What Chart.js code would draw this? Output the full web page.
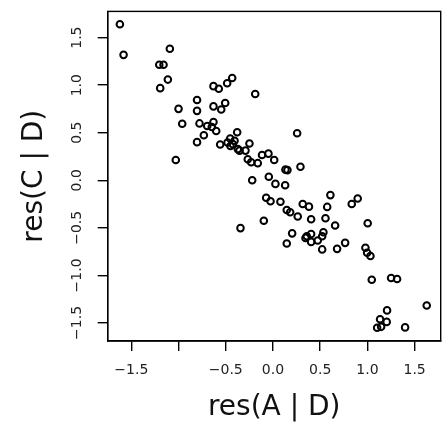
<!DOCTYPE html>
<html>
<head>
<meta charset="utf-8">
<script src="https://cdn.jsdelivr.net/npm/chart.js@4"></script>
<style>
  html, body { margin: 0; padding: 0; background: #fff; }
  #wrap { width: 446px; height: 427px; position: relative; }
</style>
</head>
<body>
<div id="wrap"><canvas id="grafica"></canvas></div>
<script>
// residuos de A | D (eje x) y C | D (eje y)
const resA = [
  -1.621, -1.582, -1.092, -1.204, -1.159, -1.113, -1.194, -1.000, -0.961, -1.029,
  -0.804, -0.804, -0.778, -0.696, -0.648, -0.630, -0.601, -0.732, -0.804, -0.630,
  -0.574, -0.485, -0.432, -0.630, -0.506, -0.548, -0.188, -0.559, -0.453, -0.407,
  -0.425, -0.372, -0.379, -0.249, -0.354, -0.291, -0.267, -0.231, -0.161, -0.116,
  -0.048, 0.013, 0.132, 0.153, 0.291, 0.256, -0.220, -0.044, 0.026, 0.129,
  -0.072, -0.026, 0.079, 0.146, 0.182, 0.262, 0.315, 0.381, -0.097, -0.344,
  0.203, 0.146, 0.344, 0.608, 0.897, 0.834, 0.574, 0.404, 0.556, 0.658,
  1.003, 0.358, 0.404, 0.534, 0.521, 0.404, 0.474, 0.521, 0.679, 0.764,
  0.979, 0.997, 1.032, 1.046, 1.251, 1.314, 1.628, 1.208, 1.134, 1.204,
  1.103, 1.145, 1.399, -0.481, -0.450
];
const resC = [
  1.641, 1.319, 1.384, 1.215, 1.215, 1.059, 0.969, 0.751, 0.595, 0.214,
  0.844, 0.730, 0.598, 0.571, 0.561, 0.613, 0.519, 0.474, 0.401, 0.990,
  0.962, 1.021, 1.076, 0.777, 0.813, 0.744, 0.907, 0.377, 0.439, 0.415,
  0.380, 0.328, 0.505, 0.387, 0.312, 0.312, 0.221, 0.190, 0.180, 0.266,
  0.280, 0.214, 0.112, 0.107, 0.143, 0.494, 0.000, 0.037, -0.038, -0.052,
  -0.184, -0.220, -0.225, -0.312, -0.336, -0.381, -0.249, -0.277, -0.426, -0.503,
  -0.558, -0.665, -0.606, -0.156, -0.191, -0.249, -0.280, -0.409, -0.399, -0.475,
  -0.451, -0.589, -0.565, -0.547, -0.589, -0.648, -0.633, -0.727, -0.721, -0.658,
  -0.710, -0.762, -0.796, -1.046, -1.028, -1.038, -1.316, -1.368, -1.461, -1.489,
  -1.551, -1.541, -1.547, 0.398, 0.361
];

// marcas de los ejes (R omite la etiqueta -1.0 en x)
const xTicks = [-1.5, -1.0, -0.5, 0.0, 0.5, 1.0, 1.5];
const xTickLabels = ["\u22121.5", "", "\u22120.5", "0.0", "0.5", "1.0", "1.5"];
const yTicks = [-1.5, -1.0, -0.5, 0.0, 0.5, 1.0, 1.5];
const yTickLabels = ["\u22121.5", "\u22121.0", "\u22120.5", "0.0", "0.5", "1.0", "1.5"];

const xTitle = "res(A | D)";
const yTitle = "res(C | D)";

const puntos = resA.map((x, i) => ({ x: x, y: resC[i] }));

// caja alrededor del área del gráfico
const caja = {
  id: "caja",
  afterDraw(chart) {
    const { ctx, chartArea: a } = chart;
    ctx.save();
    ctx.strokeStyle = "#000";
    ctx.lineWidth = 1.4;
    ctx.strokeRect(a.left, a.top, a.right - a.left, a.bottom - a.top);
    ctx.restore();
  }
};

const fuenteTick = { family: "DejaVu Sans", size: 14 };
const fuenteTitulo = { family: "DejaVu Sans", size: 28 };

new Chart(document.getElementById("grafica"), {
  type: "scatter",
  data: {
    datasets: [{
      data: puntos,
      pointRadius: 3.3,
      pointHoverRadius: 3.3,
      borderWidth: 2,
      borderColor: "#000",
      backgroundColor: "rgba(0,0,0,0)"
    }]
  },
  options: {
    responsive: true,
    maintainAspectRatio: false,
    animation: false,
    layout: { padding: { top: 7.3, right: 4.7, left: 0, bottom: 0 } },
    plugins: { legend: { display: false }, tooltip: { enabled: false } },
    scales: {
      x: {
        type: "linear",
        min: -1.75,
        max: 1.776,
        afterBuildTicks: (s) => { s.ticks = xTicks.map(v => ({ value: v })); },
        afterFit: (s) => { s.height = 86; },
        ticks: {
          callback: (v, i) => xTickLabels[i],
          font: fuenteTick,
          color: "#222",
          padding: 11,
          maxRotation: 0,
          autoSkip: false
        },
        grid: { drawOnChartArea: false, drawTicks: true, tickLength: 10, color: "#000", lineWidth: 1.4 },
        border: { display: true, color: "#000", width: 1.4 },
        title: { display: true, text: xTitle, font: fuenteTitulo, color: "#111", padding: { top: 0, bottom: 2.7 } }
      },
      y: {
        type: "linear",
        min: -1.69,
        max: 1.776,
        afterBuildTicks: (s) => { s.ticks = yTicks.map(v => ({ value: v })); },
        afterFit: (s) => { s.width = 107.7; },
        ticks: {
          callback: (v, i) => yTickLabels[i],
          font: fuenteTick,
          color: "#222",
          padding: 3,
          minRotation: 90,
          maxRotation: 90,
          crossAlign: "center",
          autoSkip: false
        },
        grid: { drawOnChartArea: false, drawTicks: true, tickLength: 10, color: "#000", lineWidth: 1.4 },
        border: { display: true, color: "#000", width: 1.4 },
        title: { display: true, text: yTitle, font: fuenteTitulo, color: "#111", padding: { top: 18.2, bottom: 0 } }
      }
    }
  },
  plugins: [caja]
});
</script>
</body>
</html>
